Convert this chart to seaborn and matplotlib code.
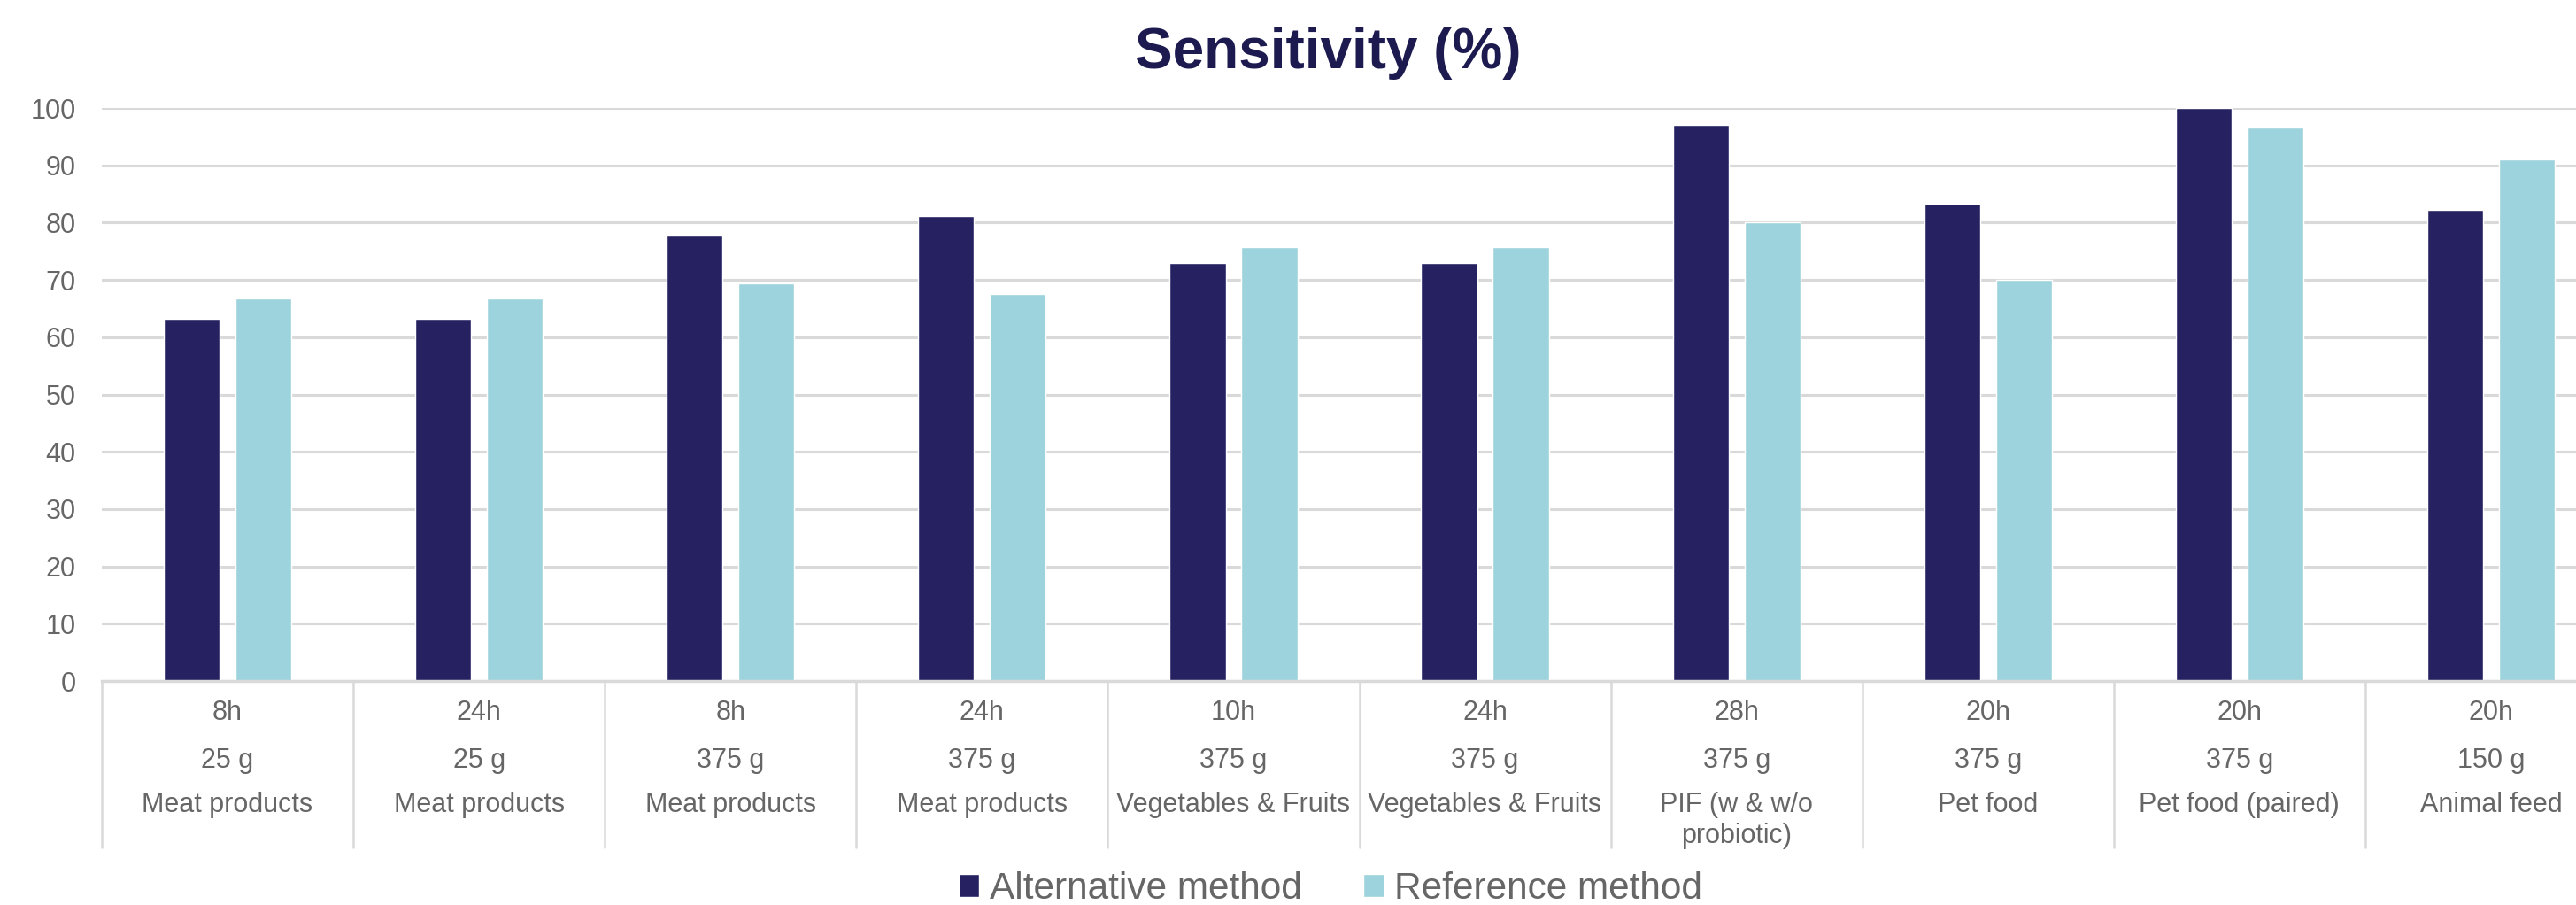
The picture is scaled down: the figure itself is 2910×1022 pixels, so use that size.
import matplotlib
matplotlib.use("Agg")
import matplotlib.pyplot as plt
import matplotlib.transforms as mtransforms
import seaborn as sns
import pandas as pd

# ---- data ----
times = ["8h", "24h", "8h", "24h", "10h", "24h", "28h", "20h", "20h", "20h"]
sizes = ["25 g", "25 g", "375 g", "375 g", "375 g", "375 g", "375 g", "375 g", "375 g", "150 g"]
matrices = ["Meat products", "Meat products", "Meat products", "Meat products",
            "Vegetables & Fruits", "Vegetables & Fruits", "PIF (w & w/o\nprobiotic)",
            "Pet food", "Pet food (paired)", "Animal feed"]
alternative = [63.2, 63.2, 77.8, 81.1, 73.0, 73.0, 97.1, 83.3, 100.0, 82.3]
reference = [66.7, 66.7, 69.4, 67.6, 75.7, 75.7, 80.0, 70.0, 96.6, 91.1]
series_names = ["Alternative method", "Reference method"]
yticks = [0, 10, 20, 30, 40, 50, 60, 70, 80, 90, 100]
title = "Sensitivity (%)"

keys = [f"g{i}" for i in range(len(times))]
df = pd.DataFrame({
    "key": keys * 2,
    "value": alternative + reference,
    "method": [series_names[0]] * len(keys) + [series_names[1]] * len(keys),
})

sns.set_theme(style="white")
plt.rcParams["font.family"] = ["Liberation Sans", "DejaVu Sans"]

TXT = "#666666"
GRID = "#d9d9d9"
colors = ["#262262", "#9dd3dc"]

W, H = 2910, 1022
AX_TOP, AX_BOT = 122, 769
fig = plt.figure(figsize=(W / 100, H / 100), dpi=100)
ax = fig.add_axes([115 / W, 1 - AX_BOT / H, 2841 / W, (AX_BOT - AX_TOP) / H])

sns.barplot(data=df, x="key", y="value", hue="method", order=keys,
            hue_order=series_names, palette=colors, saturation=1,
            width=0.57, gap=0.22, ax=ax, legend=True)

ax.set_ylim(0, 100)
ax.set_xlim(-0.5, len(keys) - 0.5)
ax.set_yticks(yticks)
ax.yaxis.grid(True, color=GRID, linewidth=2.2)
ax.set_axisbelow(True)
for s in ["top", "right", "left"]:
    ax.spines[s].set_visible(False)
ax.spines["bottom"].set_color(GRID)
ax.spines["bottom"].set_linewidth(2.5)
ax.tick_params(axis="y", length=0, pad=21, labelsize=22, labelcolor=TXT)
ax.set_xticks(range(len(keys)))
ax.set_xticklabels([""] * len(keys))
ax.tick_params(axis="x", length=0)
ax.set_xlabel("")
ax.set_ylabel("")

# multi-level category labels
trans = mtransforms.blended_transform_factory(ax.transData, ax.transAxes)
def ay(py):
    return (H - py - (H - AX_BOT)) / (AX_BOT - AX_TOP)

LINE_STEP = 34.5
for i in range(len(keys)):
    rows = [(times[i], 813), (sizes[i], 867)]
    for k, part in enumerate(matrices[i].split("\n")):
        rows.append((part, 917 + k * LINE_STEP))
    for txt, base in rows:
        ax.text(i, ay(base), txt, transform=trans, ha="center", va="baseline",
                fontsize=22, color=TXT, clip_on=False)

# category separators
sep_bottom = ay(957)
for i in range(len(keys) + 1):
    ax.plot([i - 0.5, i - 0.5], [0, sep_bottom], transform=trans, color=GRID,
            linewidth=1.8, clip_on=False)

# legend
handles, lbls = ax.get_legend_handles_labels()
ax.get_legend().remove()
fig.legend(handles, lbls, loc="center", bbox_to_anchor=(0.5165, 0.0176), ncol=2,
           frameon=False, fontsize=30.5, labelcolor=TXT, handlelength=0.55,
           handleheight=0.55, handletextpad=0.27, columnspacing=1.65,
           borderaxespad=0, borderpad=0)

fig.text(0.5155, 1 - 77 / H, title, ha="center", va="baseline", fontsize=46,
         fontweight="bold", color="#1c1a4f")

fig.savefig("out.png", dpi=100, facecolor="white")
